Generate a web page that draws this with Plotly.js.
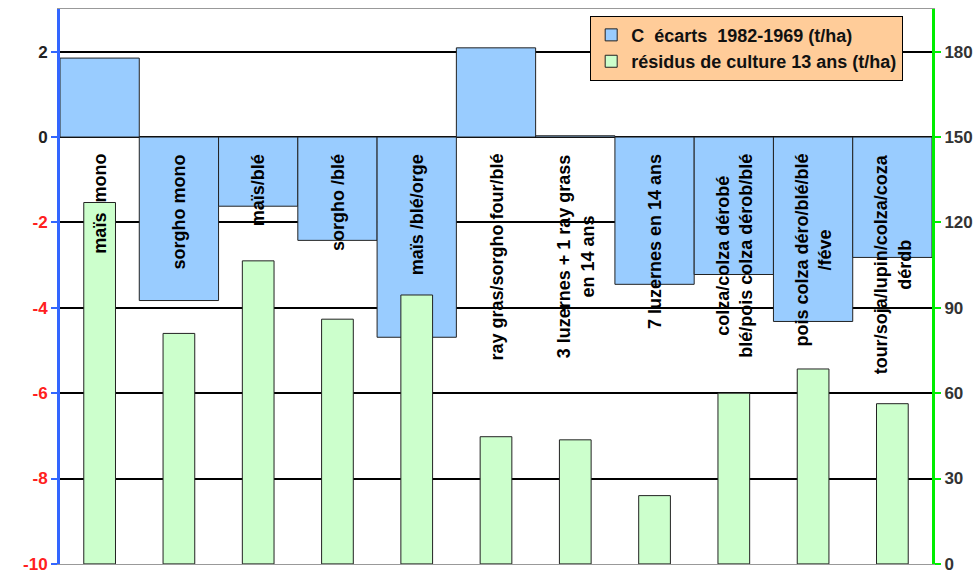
<!DOCTYPE html>
<html>
<head>
<meta charset="utf-8">
<script src="https://cdn.plot.ly/plotly-3.0.1.min.js"></script>
<style>html,body{margin:0;padding:0;background:#fff;}#chart{width:978px;height:574px;}</style>
</head>
<body>
<div id="chart"></div>
<script>
const categories = ["maïs mono", "sorgho mono", "maïs/blé", "sorgho /blé", "maïs /blé/orge",
  "ray gras/sorgho four/blé", "3 luzernes + 1 ray grass en 14 ans", "7 luzernes en 14 ans",
  "colza/colza dérobé blé/pois colza dérob/blé", "pois colza déro/blé/blé /féve",
  "tour/soja/lupin/colza/coza dérdb"];
const categoryLabels = ["maïs\u00a0\u00a0mono", "sorgho mono", "maïs/blé", "sorgho\u00a0/blé", "maïs\u00a0/blé/orge",
  "ray gras/sorgho four/blé", "3 luzernes + 1 ray grass<br>en 14 ans", "7 luzernes en 14 ans",
  "colza/colza dérobé<br>blé/pois colza dérob/blé", "pois colza déro/blé/blé<br>/féve",
  "tour/soja/lupin/colza/coza<br>dérdb"];
const ecartsC = [1.85, -3.83, -1.62, -2.42, -4.69, 2.09, 0.03, -3.45, -3.22, -4.32, -2.82];
const residus = [127, 81, 106.5, 86, 94.5, 44.7, 43.6, 24, 60, 68.5, 56.3];
const leftTicks = [-10, -8, -6, -4, -2, 0, 2];
const rightTicks = [0, 30, 60, 90, 120, 150, 180];
const seriesNames = ["C\u00a0\u00a0écarts\u00a0\u00a01982-1969 (t/ha)", "résidus de culture 13 ans (t/ha)"];

const FONT = "Liberation Sans, Arial, sans-serif";
const idx = categories.map((c, i) => i);

const traces = [
  {type: "bar", name: seriesNames[0], x: idx, y: ecartsC, width: 1, yaxis: "y",
   marker: {color: "#99ccff", line: {color: "#222", width: 1}}},
  {type: "bar", name: seriesNames[1], x: idx, y: residus, width: 0.4, yaxis: "y2",
   marker: {color: "#ccffcc", line: {color: "#222", width: 1}}}
];

const annotations = categoryLabels.map((t, i) => ({
  x: i, y: -0.35, xref: "x", yref: "y", text: t, showarrow: false,
  textangle: -90, xanchor: "center", yanchor: "top", align: "center",
  font: {family: FONT, size: 18, color: "#000", weight: "bold"}
}));

const layout = {
  width: 978, height: 574,
  margin: {l: 60, r: 46, t: 9, b: 10},
  paper_bgcolor: "#fff", plot_bgcolor: "#fff",
  barmode: "overlay", showlegend: true,
  xaxis: {range: [-0.5, 10.5], showticklabels: false, ticks: "", showgrid: false,
    zeroline: false, showline: true, mirror: true, linecolor: "#999", linewidth: 1, fixedrange: true},
  yaxis: {range: [-10.002, 3], tickvals: leftTicks, ticklabeloverflow: "allow",
    ticktext: leftTicks.map(v => v < 0 ? '<span style="fill:#ff2020">' + v + '</span>' : String(v)),
    showgrid: true, gridcolor: "#000", gridwidth: 2, zeroline: true, zerolinecolor: "#000", zerolinewidth: 2,
    showline: true, linecolor: "#3366ff", linewidth: 3, ticks: "outside", ticklen: 6, tickwidth: 2, tickcolor: "#3366ff",
    tickfont: {family: FONT, size: 17, color: "#222", weight: "bold"}},
  yaxis2: {range: [-0.03, 195], tickvals: rightTicks, overlaying: "y", side: "right", ticklabeloverflow: "allow",
    showgrid: false, zeroline: false, showline: true, linecolor: "#00ee00", linewidth: 3,
    ticks: "outside", ticklen: 6, tickwidth: 2, tickcolor: "#00ee00",
    tickfont: {family: FONT, size: 17, color: "#333", weight: "bold"}},
  legend: {x: 0.608, y: 0.988, xanchor: "left", yanchor: "top", bgcolor: "#ffcc99",
    bordercolor: "#000", borderwidth: 1, traceorder: "normal",
    font: {family: FONT, size: 18, color: "#111", weight: "bold"}, itemwidth: 30, tracegroupgap: 0},
  annotations: annotations
};

Plotly.newPlot("chart", traces, layout, {staticPlot: true});
</script>
</body>
</html>
